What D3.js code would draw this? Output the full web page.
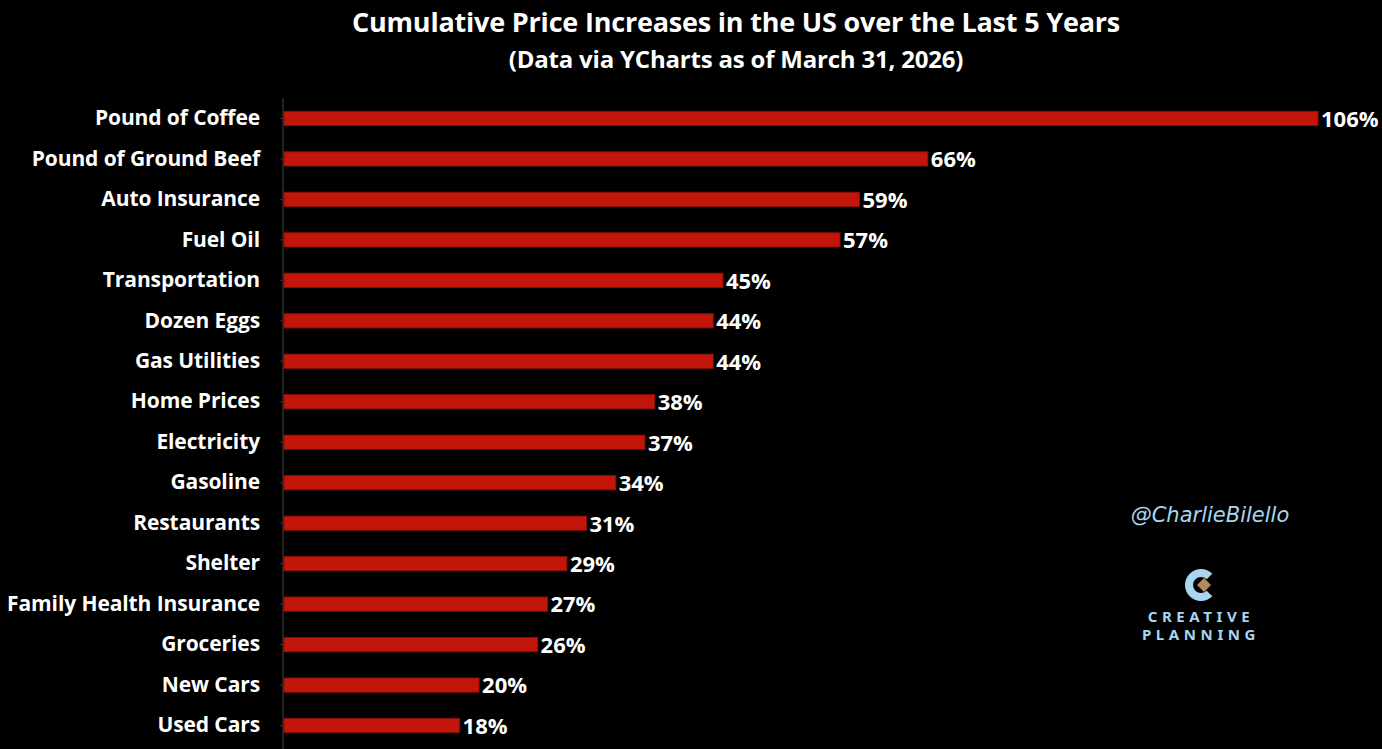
<!DOCTYPE html>
<html>
<head>
<meta charset="utf-8">
<script src="https://cdn.jsdelivr.net/npm/d3@7"></script>
<style>
  html, body { margin: 0; padding: 0; background: #000; }
  svg { display: block; }
</style>
</head>
<body>
<svg id="chart"></svg>
<script>
// values
var categories = [
    "Pound of Coffee", "Pound of Ground Beef", "Auto Insurance", "Fuel Oil",
    "Transportation", "Dozen Eggs", "Gas Utilities", "Home Prices",
    "Electricity", "Gasoline", "Restaurants", "Shelter",
    "Family Health Insurance", "Groceries", "New Cars", "Used Cars"
];
var increases = [106, 66, 59, 57, 45, 44, 44, 38, 37, 34, 31, 29, 27, 26, 20, 18];

var title = "Cumulative Price Increases in the US over the Last 5 Years";
var subtitle = "(Data via YCharts as of March 31, 2026)";

var width = 1382, height = 749;
var marginLeft = 284, marginRight = 64, marginTop = 98, marginBottom = 3;
var font = "'Open Sans', Lato, sans-serif";

var data = categories.map((c, i) => ({ name: c, value: increases[i] }));

var svg = d3.select("#chart")
    .attr("width", width)
    .attr("height", height)
    .attr("viewBox", [0, 0, width, height]);

svg.append("rect").attr("width", width).attr("height", height).attr("fill", "#000");

var x = d3.scaleLinear()
    .domain([0, 106])
    .range([marginLeft, width - marginRight]);

var y = d3.scaleBand()
    .domain(categories)
    .range([marginTop, height - marginBottom])
    .paddingInner(0.65)
    .paddingOuter(0.33);

// titles
svg.append("text")
    .attr("x", 736).attr("y", 32)
    .attr("text-anchor", "middle")
    .attr("fill", "#fff")
    .attr("font-family", font)
    .attr("font-weight", "bold")
    .attr("font-size", 27)
    .attr("letter-spacing", -0.2)
    .text(title);

svg.append("text")
    .attr("x", 736).attr("y", 68)
    .attr("text-anchor", "middle")
    .attr("fill", "#fff")
    .attr("font-family", font)
    .attr("font-weight", "bold")
    .attr("font-size", 24)
    .attr("letter-spacing", -0.2)
    .text(subtitle);

// y axis with category names
svg.append("g")
    .attr("transform", `translate(${marginLeft - 1},0)`)
    .call(d3.axisLeft(y).tickSize(3).tickPadding(20))
    .call(g => g.select(".domain").attr("stroke", "#444").attr("d", `M-0,${marginTop}V${height}`))
    .call(g => g.selectAll(".tick line").attr("stroke", "#333"))
    .call(g => g.selectAll(".tick text")
        .attr("fill", "#fff")
        .attr("font-family", font)
        .attr("font-weight", "bold")
        .attr("font-size", 21)
        .attr("letter-spacing", -0.1));

// bars
svg.append("g")
    .selectAll("rect")
    .data(data)
    .join("rect")
    .attr("x", x(0))
    .attr("y", d => y(d.name))
    .attr("width", d => x(d.value) - x(0))
    .attr("height", y.bandwidth())
    .attr("fill", "#c2160b")
    .attr("stroke", "#8c1008")
    .attr("stroke-width", 1);

// value labels
svg.append("g")
    .selectAll("text")
    .data(data)
    .join("text")
    .attr("x", d => x(d.value) + 3)
    .attr("y", d => y(d.name) + y.bandwidth() / 2)
    .attr("dy", "0.38em")
    .attr("fill", "#fff")
    .attr("font-family", font)
    .attr("font-weight", "bold")
    .attr("font-size", 22)
    .text(d => d.value + "%");

// watermark
svg.append("text")
    .attr("x", 1210).attr("y", 522)
    .attr("text-anchor", "middle")
    .attr("fill", "#a9d6ee")
    .attr("font-family", "'Comic Sans MS', 'DejaVu Sans', sans-serif")
    .attr("font-style", "italic")
    .attr("font-size", 21)
    .text("@CharlieBilello");

// logo
var logo = svg.append("g").attr("transform", "translate(1201,585)");
logo.append("path")
    .attr("d", d3.arc().innerRadius(8).outerRadius(16).startAngle(Math.PI * 0.75).endAngle(Math.PI * 2.25)())
    .attr("fill", "#a9d6ee");
logo.append("path")
    .attr("d", "M-7,0L0,-7L7,0L0,7Z")
    .attr("transform", "translate(3,0)")
    .attr("fill", "#b08a5a");

logo.selectAll("text.brand")
    .data(["CREATIVE", "PLANNING"])
    .join("text")
    .attr("class", "brand")
    .attr("x", 0)
    .attr("y", (d, i) => 37 + i * 18)
    .attr("text-anchor", "middle")
    .attr("fill", "#a9d6ee")
    .attr("font-family", "'Noto Sans', sans-serif")
    .attr("font-weight", "bold")
    .attr("font-size", 15)
    .attr("letter-spacing", 4.6)
    .text(d => d);
</script>
</body>
</html>
